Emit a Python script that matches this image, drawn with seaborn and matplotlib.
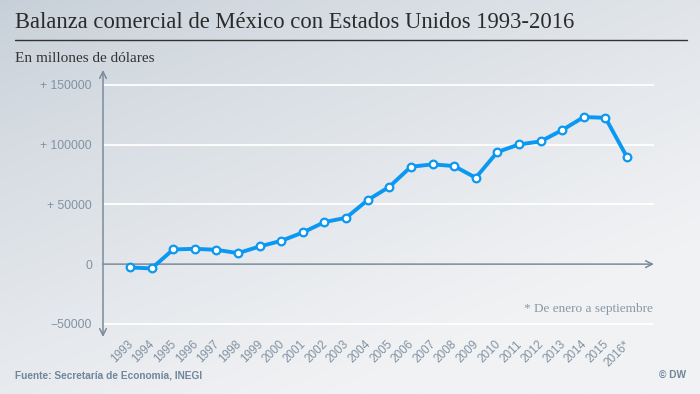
import numpy as np
import pandas as pd
import matplotlib
matplotlib.use("Agg")
import matplotlib.pyplot as plt
from matplotlib.lines import Line2D
from matplotlib.transforms import ScaledTranslation
import seaborn as sns

years = ["1993", "1994", "1995", "1996", "1997", "1998", "1999", "2000", "2001", "2002",
         "2003", "2004", "2005", "2006", "2007", "2008", "2009", "2010", "2011", "2012",
         "2013", "2014", "2015", "2016*"]
balance = [-2800, -3600, 12300, 12800, 12000, 9200, 14800, 19500, 26500, 35200,
           38800, 53600, 64700, 81500, 83500, 82100, 72300, 93800, 100200, 102700,
           112200, 123100, 122500, 89600]
ytick_values = [-50000, 0, 50000, 100000, 150000]
ytick_labels = ["\u221250000", "0", "+ 50000", "+ 100000", "+ 150000"]

sns.set_theme(style="white")
plt.rcParams["font.family"] = ["Liberation Sans", "DejaVu Sans"]

W, H = 700, 394
fig = plt.figure(figsize=(7, 3.94), dpi=100)

# background gradient
bg = fig.add_axes([0, 0, 1, 1], zorder=-10)
xx, yy = np.meshgrid(np.linspace(0, 1, 300), np.linspace(0, 1, 200))
t = np.clip(0.55 * xx + 0.75 * yy, 0, 1) ** 0.8
c0 = np.array([0xc6, 0xcf, 0xd8]) / 255
c1 = np.array([0xf1, 0xf2, 0xf4]) / 255
img = c0[None, None, :] * (1 - t[..., None]) + c1[None, None, :] * t[..., None]
bg.imshow(img, aspect="auto", extent=[0, 1, 0, 1], origin="upper")
bg.axis("off")

def px(x, y):
    return x / W, 1 - y / H

# plot axes
left, right = 103, 654
top, bottom = 70, 337
ax = fig.add_axes([left / W, 1 - bottom / H, (right - left) / W, (bottom - top) / H])
ax.patch.set_alpha(0)

df = pd.DataFrame({"pos": np.arange(len(years)), "value": balance})
axis_col = "#7b8b9b"
for v in [-50000, 50000, 100000, 150000]:
    ax.axhline(v, color="white", lw=1.3, zorder=1)

sns.lineplot(data=df, x="pos", y="value", ax=ax, color="#0b98f2", lw=2.8,
             marker="o", markersize=5.5, markerfacecolor="white",
             markeredgecolor="#0b98f2", markeredgewidth=1.6, zorder=5)

ax.set_xlim(-1.25, len(years) - 1 + 1.25)
ax.set_ylim(-61000, 162500)
for s in ax.spines.values():
    s.set_visible(False)
ax.set_xlabel("")
ax.set_ylabel("")

# axis arrows
ax.annotate("", xy=(0, 1.0), xytext=(0, 0), xycoords="axes fraction",
            arrowprops=dict(arrowstyle="<->,head_length=0.4,head_width=0.2",
                            color=axis_col, lw=1.1, shrinkA=0, shrinkB=0))
ax.annotate("", xy=(1.0, 0), xytext=(0, 0),
            xycoords=("axes fraction", "data"),
            arrowprops=dict(arrowstyle="->,head_length=0.4,head_width=0.2",
                            color=axis_col, lw=1.1, shrinkA=0, shrinkB=0))

ax.set_yticks(ytick_values)
ax.set_yticklabels(ytick_labels)
ax.tick_params(axis="y", length=0, pad=8, labelsize=8.7, labelcolor="#8192a2")
ax.set_xticks(df["pos"])
ax.set_xticklabels(years, rotation=45, ha="right", va="top", rotation_mode="anchor")
ax.tick_params(axis="x", length=0, pad=1, labelsize=8.5, labelcolor="#8192a2")
offset = ScaledTranslation(-3 / 100, 0, fig.dpi_scale_trans)
for lab in ax.get_xticklabels():
    lab.set_transform(lab.get_transform() + offset)

# texts
fig.text(*px(15, 22), "Balanza comercial de México con Estados Unidos 1993-2016",
         family="Liberation Serif", fontsize=16.25, color="#2b2b2b", va="center", ha="left")
fig.add_artist(Line2D([15 / W, 687 / W], [1 - 40 / H, 1 - 40 / H], color="#333333", lw=1.0))
fig.text(*px(15, 58), "En millones de dólares", family="Liberation Serif",
         fontsize=11, color="#333333", va="center", ha="left")
fig.text(*px(653, 309), "* De enero a septiembre", family="Liberation Serif",
         fontsize=9.5, color="#8898a8", va="center", ha="right")
fig.text(*px(15, 375), "Fuente: Secretaría de Economía, INEGI", fontsize=7.3,
         fontweight="bold", color="#6f869c", va="center", ha="left")
fig.text(*px(686, 375), "© DW", fontsize=7.3, fontweight="bold", color="#6f869c",
         va="center", ha="right")

fig.savefig("out.png", dpi=100)
